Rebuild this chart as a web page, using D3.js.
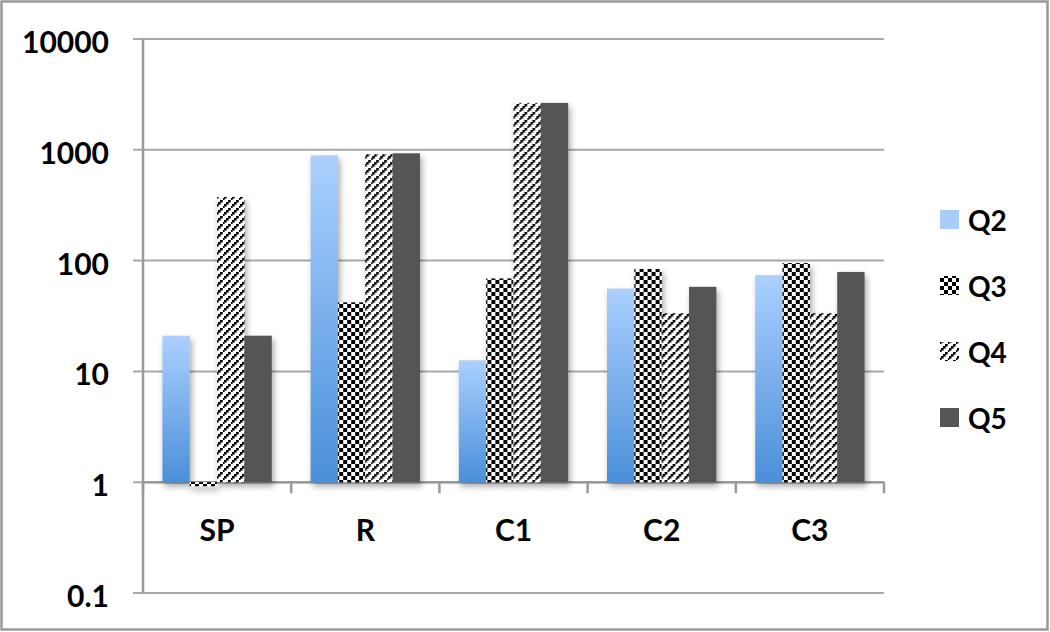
<!DOCTYPE html>
<html>
<head>
    <script src="https://d3js.org/d3.v7.min.js"></script>
    <style>
        body { margin: 0; background: #fff; }
        text { font-family: Lato, "Open Sans", sans-serif; font-weight: 700; fill: #000; }
    </style>
</head>
<body>
    <svg width="1050" height="632"></svg>

    <script>
        const width = 1050, height = 632;
        const plot = { left: 143, right: 884, top: 39, bottom: 593 };
        const svg = d3.select("svg");

        // data
        const categories = ["SP", "R", "C1", "C2", "C3"];
        const seriesNames = ["Q2", "Q3", "Q4", "Q5"];
        const q2 = [21, 890, 12.6, 56, 74];
        const q3 = [0.92, 42, 69, 84, 95];
        const q4 = [375, 910, 2650, 33.5, 33.5];
        const q5 = [21, 930, 2650, 58, 79];
        const yTicks = [0.1, 1, 10, 100, 1000, 10000];
        const yTickLabels = ["0.1", "1", "10", "100", "1000", "10000"];

        const seriesValues = [q2, q3, q4, q5];
        const rows = categories.map((c, i) => ({
            cat: c,
            bars: seriesNames.map((s, j) => ({ s, v: seriesValues[j][i] }))
        }));

        // defs: gradient, patterns, shadow
        const defs = svg.append("defs");
        const grad = defs.append("linearGradient").attr("id", "blueGrad")
            .attr("x1", 0).attr("y1", 0).attr("x2", 0).attr("y2", 1);
        grad.append("stop").attr("offset", "0%").attr("stop-color", "#abd0ff");
        grad.append("stop").attr("offset", "100%").attr("stop-color", "#4a8fd9");

        const checker = defs.append("pattern").attr("id", "checker")
            .attr("width", 8).attr("height", 8).attr("patternUnits", "userSpaceOnUse");
        checker.append("rect").attr("width", 8).attr("height", 8).attr("fill", "#fff");
        checker.append("rect").attr("width", 4).attr("height", 4).attr("fill", "#000");
        checker.append("rect").attr("x", 4).attr("y", 4).attr("width", 4).attr("height", 4).attr("fill", "#000");

        const diag = defs.append("pattern").attr("id", "diag")
            .attr("width", 8).attr("height", 8).attr("patternUnits", "userSpaceOnUse");
        diag.append("rect").attr("width", 8).attr("height", 8).attr("fill", "#fff");
        [[-1, 6], [1, 4], [3, 2], [5, 0], [7, -2]].forEach(([x, y]) => {
            diag.append("rect").attr("x", x).attr("y", y).attr("width", 2.6).attr("height", 2.6).attr("fill", "#000");
        });

        const shadow = defs.append("filter").attr("id", "shadow")
            .attr("x", "-20%").attr("y", "-5%").attr("width", "150%").attr("height", "115%");
        shadow.append("feDropShadow").attr("dx", 2).attr("dy", 4)
            .attr("stdDeviation", 3).attr("flood-color", "#000").attr("flood-opacity", 0.35);

        const fills = { Q2: "url(#blueGrad)", Q3: "url(#checker)", Q4: "url(#diag)", Q5: "#555555" };
        const legendFills = { Q2: "#a9cdfb", Q3: "url(#checker)", Q4: "url(#diag)", Q5: "#555555" };

        // outer border
        svg.append("rect").attr("x", 1.5).attr("y", 1.5)
            .attr("width", width - 4).attr("height", height - 4)
            .attr("fill", "none").attr("stroke", "#999").attr("stroke-width", 2.5);

        // scales
        const y = d3.scaleLog().domain([0.1, 10000]).range([plot.bottom, plot.top]);
        const x0 = d3.scaleBand().domain(categories).range([plot.left, plot.right]).padding(0);
        const x1 = d3.scaleBand().domain(seriesNames).range([0, x0.bandwidth()])
            .paddingInner(0).paddingOuter(0.71);

        // gridlines
        svg.append("g").selectAll("line").data(yTicks).enter().append("line")
            .attr("x1", plot.left - 10).attr("x2", plot.right)
            .attr("y1", d => y(d)).attr("y2", d => y(d))
            .attr("stroke", "#a8a8a8").attr("stroke-width", 2);

        // y axis line
        svg.append("line").attr("x1", plot.left).attr("x2", plot.left)
            .attr("y1", plot.top).attr("y2", plot.bottom)
            .attr("stroke", "#9a9a9a").attr("stroke-width", 2.5);

        // y labels
        svg.append("g").selectAll("text").data(yTicks).enter().append("text")
            .attr("x", 109).attr("y", d => y(d) + 14)
            .attr("text-anchor", "end").attr("font-size", 30)
            .text((d, i) => yTickLabels[i]);

        // category axis at 1, with ticks below
        const base = y(1);
        svg.append("line").attr("x1", plot.left).attr("x2", plot.right)
            .attr("y1", base).attr("y2", base)
            .attr("stroke", "#9a9a9a").attr("stroke-width", 2.5);
        const edges = categories.map(c => x0(c)).concat([plot.right]);
        svg.append("g").selectAll("line").data(edges).enter().append("line")
            .attr("x1", d => d).attr("x2", d => d)
            .attr("y1", base).attr("y2", base + 11)
            .attr("stroke", "#9a9a9a").attr("stroke-width", 2.5);

        // bars
        const groups = svg.append("g").attr("filter", "url(#shadow)")
            .selectAll("g").data(rows).enter().append("g")
            .attr("transform", d => `translate(${x0(d.cat)},0)`);
        groups.selectAll("rect").data(d => d.bars).enter().append("rect")
            .attr("x", d => x1(d.s))
            .attr("width", x1.bandwidth())
            .attr("y", d => Math.min(y(d.v), base))
            .attr("height", d => Math.abs(base - y(d.v)))
            .attr("fill", d => fills[d.s]);

        // category labels
        svg.append("g").selectAll("text").data(categories).enter().append("text")
            .attr("x", d => x0(d) + x0.bandwidth() / 2).attr("y", 541)
            .attr("text-anchor", "middle").attr("font-size", 30)
            .text(d => d);

        // legend
        const legend = svg.append("g").selectAll("g").data(seriesNames).enter().append("g")
            .attr("transform", (d, i) => `translate(940,${220 + i * 66})`);
        legend.append("rect").attr("x", 0).attr("y", -10)
            .attr("width", 19).attr("height", 19)
            .attr("fill", d => legendFills[d]);
        legend.append("text").attr("x", 28).attr("y", 11)
            .attr("font-size", 28).text(d => d);
    </script>
</body>
</html>
